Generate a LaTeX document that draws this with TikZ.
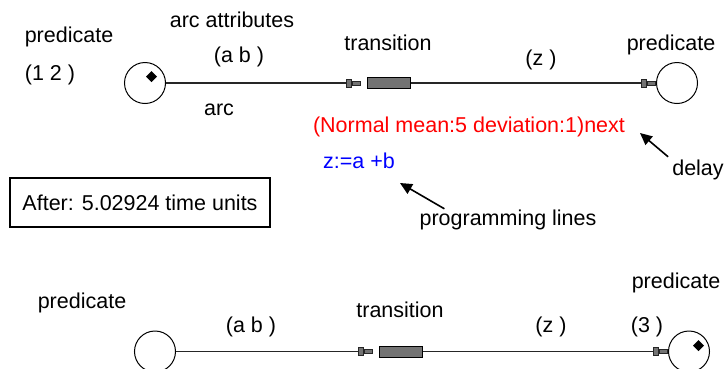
\documentclass[tikz,border=0pt]{standalone}
\usepackage{fontspec}
\setmainfont{Liberation Sans}
\usetikzlibrary{arrows.meta}

\begin{document}
\begin{tikzpicture}[x=1pt, y=-1pt, font=\fontsize{21.5}{25}\selectfont,
    place/.style={draw, circle, line width=1pt, minimum size=41pt, inner sep=0pt},
    trans/.style={draw, line width=1pt, fill=black!55, minimum width=43pt, minimum height=11pt, inner sep=0pt},
    arcline/.style={line width=1.2pt, black!85, -{Rectangle[length=6pt,width=9pt,fill=black!55,line width=1pt] Rectangle[length=9pt,width=5pt,fill=black!55,line width=1pt]}},
    ptr/.style={line width=1.6pt, -{Triangle[length=12pt,width=11pt]}},
    lbl/.style={inner sep=1pt}]
    \useasboundingbox (0,0) rectangle (726,368);

    % Netz vor dem Feuern
    \node[place] (p1) at (145,83) {};
    \node[trans] (t1) at (388.5,83) {};
    \node[place] (p2) at (677,83) {};
    \fill (151.5,71) -- (157,76.5) -- (151.5,82) -- (146,76.5) -- cycle;
    \draw[arcline, shorten >=6pt] (p1) -- (t1);
    \draw[arcline] (t1) -- (p2);

    % Beschriftungen oben
    \node[lbl] (pred1) at (69,37) {predicate};
    \node[lbl] (tok1) at (50,75) {(1 2 )};
    \node[lbl] (arcattr) at (232,20) {arc attributes};
    \node[lbl] (ab1) at (239,57) {(a b )};
    \node[lbl] (arclbl) at (219,110) {arc};
    \node[lbl] (trlbl1) at (388,43) {transition};
    \node[lbl] (z1) at (541,60) {(z )};
    \node[lbl] (pred2) at (671,45) {predicate};

    % Verzoegerung und Programmzeilen
    \node[lbl, red] (delayfn) at (469,127) {(Normal mean:5 deviation:1)next};
    \node[lbl, blue] (code) at (359,161) {z:=a +b};
    \node[lbl] (delay) at (698,170) {delay};
    \node[lbl] (proglines) at (508,220) {programming lines};
    \coordinate (delaytip) at (640,133);
    \coordinate (codetip) at (400,183);
    \draw[ptr] ([xshift=-3pt,yshift=2pt]delay.north west) -- (delaytip);
    \draw[ptr] ([xshift=26pt,yshift=0pt]proglines.north west) -- (codetip);

    % Zeitangabe
    \node[draw, line width=1.2pt, minimum width=260pt, minimum height=49pt] (after) at (140,202.5) {After: 5.02924 time units};

    % Netz nach dem Feuern
    \node[place] (p3) at (155,351.5) {};
    \node[trans] (t2) at (400.5,351.5) {};
    \node[place] (p4) at (689,351.5) {};
    \fill (698.5,340) -- (704,345.5) -- (698.5,351) -- (693,345.5) -- cycle;
    \draw[arcline, shorten >=6pt] (p3) -- (t2);
    \draw[arcline] (t2) -- (p4);

    % Beschriftungen unten
    \node[lbl] (pred3) at (82,303) {predicate};
    \node[lbl] (ab2) at (251,327) {(a b )};
    \node[lbl] (trlbl2) at (400,310) {transition};
    \node[lbl] (z2) at (551,327) {(z )};
    \node[lbl] (pred4) at (676,283) {predicate};
    \node[lbl] (tok4) at (647,327) {(3 )};
\end{tikzpicture}
\end{document}
